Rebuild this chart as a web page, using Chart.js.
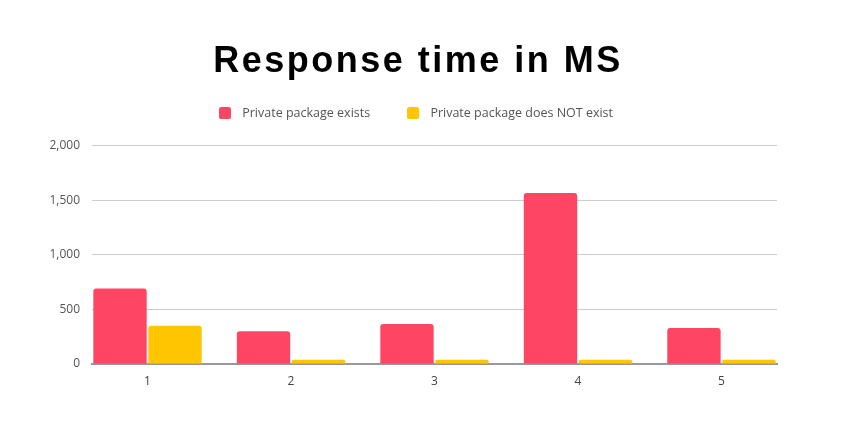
<!DOCTYPE html>
<html>
<head>
<meta charset="utf-8">
<script src="https://cdn.jsdelivr.net/npm/chart.js@4"></script>
<style>
html,body{margin:0;padding:0;background:#fff;}
#wrap{width:850px;height:425px;}
</style>
</head>
<body>
<div id="wrap"><canvas id="c" width="850" height="425"></canvas></div>
<script>
const categories = ["1", "2", "3", "4", "5"];
const seriesNames = ["Private package exists", "Private package does NOT exist"];
const seriesColors = ["#ff4564", "#ffc600"];
const existsValues = [690, 300, 365, 1565, 330];
const notExistValues = [350, 40, 40, 40, 40];
const yTicks = [0, 500, 1000, 1500, 2000];
const titleText = "Response time in MS";

const titlePlugin = {
  id: 'spacedTitle',
  afterDraw(chart) {
    const ctx = chart.ctx;
    ctx.save();
    ctx.font = 'bold 36px "Liberation Sans", Arial, sans-serif';
    ctx.letterSpacing = '2.5px';
    ctx.fillStyle = '#000';
    ctx.textAlign = 'center';
    ctx.textBaseline = 'alphabetic';
    ctx.fillText(titleText, 418, 72);
    ctx.restore();
  }
};

// legend swatch: 12x12 rounded square on the left of a 17px wide image
function swatch(color) {
  const cv = document.createElement('canvas');
  cv.width = 17; cv.height = 12;
  const g = cv.getContext('2d');
  g.fillStyle = color;
  g.beginPath();
  g.roundRect(0, 0, 12, 12, 2);
  g.fill();
  return cv;
}

const toPoints = vals => categories.map((c, i) => ({ x: Number(c), y: vals[i] }));

new Chart(document.getElementById('c'), {
  type: 'bar',
  data: {
    datasets: [
      { label: seriesNames[0], data: toPoints(existsValues), xAxisID: 'x', yAxisID: 'y', backgroundColor: seriesColors[0], borderRadius: 3, borderSkipped: 'bottom', pointStyle: swatch(seriesColors[0]) },
      { label: seriesNames[1], data: toPoints(notExistValues), xAxisID: 'x', yAxisID: 'y', backgroundColor: seriesColors[1], borderRadius: 3, borderSkipped: 'bottom', pointStyle: swatch(seriesColors[1]) }
    ]
  },
  options: {
    responsive: false,
    animation: false,
    devicePixelRatio: 1,
    datasets: { bar: { categoryPercentage: 0.767, barPercentage: 0.97 } },
    layout: { padding: { left: 0, right: 18, top: 70, bottom: 35 } },
    plugins: {
      title: { display: false },
      tooltip: { enabled: false },
      legend: {
        display: true,
        labels: {
          usePointStyle: true, pointStyleWidth: 17,
          boxWidth: 12, boxHeight: 12, padding: 37,
          color: '#555',
          font: { family: '"Open Sans", sans-serif', size: 12.5 }
        }
      }
    },
    scales: {
      x: {
        type: 'linear',
        min: 0.613, max: 5.387,
        offset: false,
        afterBuildTicks(s) { s.ticks = categories.map(c => ({ value: Number(c) })); },
        grid: { display: false },
        border: { display: true, color: '#999', width: 2 },
        ticks: { color: '#444', font: { family: '"Open Sans", sans-serif', size: 12 }, padding: 2,
          callback: (v, i) => categories[i] },
        afterFit(s) { s.height = 26; }
      },
      y: {
        min: 0, max: 2000,
        afterBuildTicks(s) { s.ticks = yTicks.map(v => ({ value: v })); },
        grid: { color: '#cccccc', drawTicks: false },
        border: { display: false },
        ticks: {
          color: '#555', padding: 12,
          font: { family: '"Open Sans", sans-serif', size: 12 },
          callback: v => v.toLocaleString('en-US')
        },
        afterFit(s) { s.width = 92; }
      },
      spacer: {
        type: 'category',
        position: 'top',
        labels: [''],
        grid: { display: false },
        border: { display: false },
        ticks: { display: false },
        afterFit(s) { s.height = 16; }
      },
      spacerRight: {
        type: 'linear',
        position: 'right',
        grid: { display: false },
        border: { display: false },
        ticks: { display: false },
        afterFit(s) { s.width = 55; }
      }
    }
  },
  plugins: [titlePlugin]
});
</script>
</body>
</html>
